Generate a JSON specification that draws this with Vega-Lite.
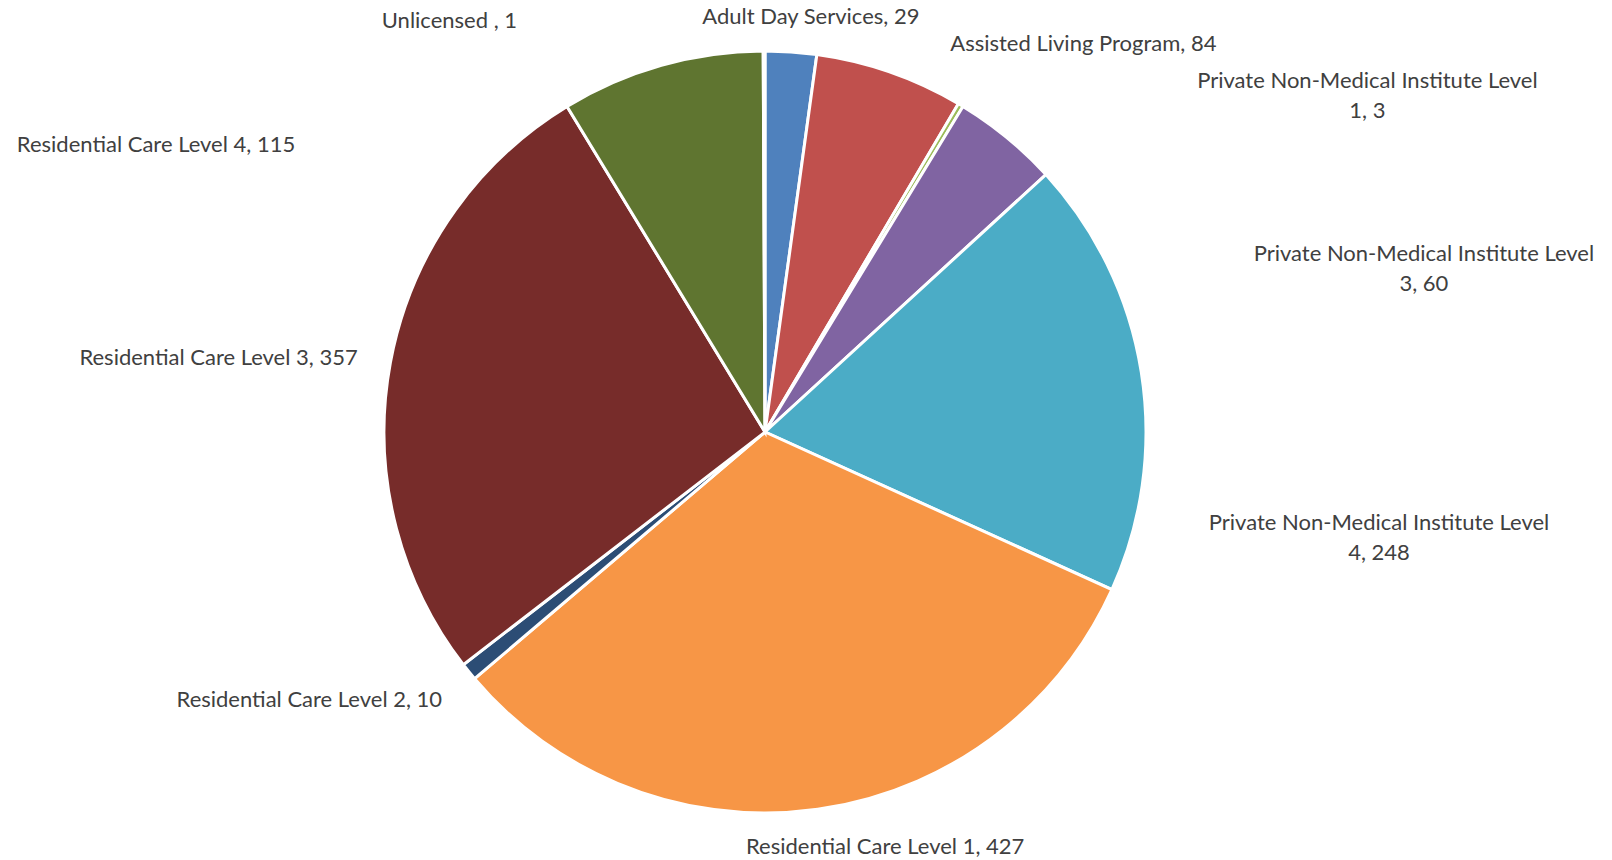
{
  "$schema": "https://vega.github.io/schema/vega-lite/v6.json",
  "width": 1530,
  "height": 856,
  "autosize": {"type": "none"},
  "padding": {"left": 0, "top": 4, "right": 82, "bottom": 0},
  "background": "white",
  "config": {"view": {"stroke": null}},
  "data": {"values": [
    {"name": "Adult Day Services", "value": 29, "label": "Adult Day Services, 29"},
    {"name": "Assisted Living Program", "value": 84, "label": "Assisted Living Program, 84"},
    {"name": "Private Non-Medical Institute Level 1", "value": 3, "label": "Private Non-Medical Institute Level\n1, 3"},
    {"name": "Private Non-Medical Institute Level 3", "value": 60, "label": "Private Non-Medical Institute Level\n3, 60"},
    {"name": "Private Non-Medical Institute Level 4", "value": 248, "label": "Private Non-Medical Institute Level\n4, 248"},
    {"name": "Residential Care Level 1", "value": 427, "label": "Residential Care Level 1, 427"},
    {"name": "Residential Care Level 2", "value": 10, "label": "Residential Care Level 2, 10"},
    {"name": "Residential Care Level 3", "value": 357, "label": "Residential Care Level 3, 357"},
    {"name": "Residential Care Level 4", "value": 115, "label": "Residential Care Level 4, 115"},
    {"name": "Unlicensed", "value": 1, "label": "Unlicensed , 1"}
  ]},
  "layer": [
    {
      "mark": {"type": "arc", "radius": 381, "stroke": "white", "strokeWidth": 3},
      "encoding": {
        "theta": {"field": "value", "type": "quantitative", "stack": true},
        "color": {"field": "name", "type": "nominal", "legend": null,
          "scale": {
            "domain": ["Adult Day Services", "Assisted Living Program", "Private Non-Medical Institute Level 1", "Private Non-Medical Institute Level 3", "Private Non-Medical Institute Level 4", "Residential Care Level 1", "Residential Care Level 2", "Residential Care Level 3", "Residential Care Level 4", "Unlicensed"],
            "range": ["#4F81BD", "#C0504D", "#9BBB59", "#8064A2", "#4BACC6", "#F79646", "#2C4D75", "#772C2A", "#5F7530", "#4D3B62"]
          }}
      }
    },
    {
      "mark": {"type": "text", "radius": 408, "align": "center", "baseline": "alphabetic", "dx": 18, "dy": -1, "lineBreak": "\n", "lineHeight": 30, "font": "Lato", "fontSize": 22, "fill": "#404040"},
      "encoding": {
        "theta": {"field": "value", "type": "quantitative", "stack": true},
        "detail": {"field": "name", "type": "nominal"},
        "text": {"condition": {"test": "datum.name === 'Adult Day Services'", "field": "label", "type": "nominal"}, "value": ""}
      }
    },
    {
      "mark": {"type": "text", "radius": 404, "align": "right", "baseline": "alphabetic", "dx": -247, "dy": 0, "lineBreak": "\n", "lineHeight": 30, "font": "Lato", "fontSize": 22, "fill": "#404040"},
      "encoding": {
        "theta": {"field": "value", "type": "quantitative", "stack": true},
        "detail": {"field": "name", "type": "nominal"},
        "text": {"condition": {"test": "datum.name === 'Unlicensed'", "field": "label", "type": "nominal"}, "value": ""}
      }
    },
    {
      "mark": {"type": "text", "radius": 400, "align": "left", "baseline": "alphabetic", "dx": 54, "dy": -3, "lineBreak": "\n", "lineHeight": 30, "font": "Lato", "fontSize": 22, "fill": "#404040"},
      "encoding": {
        "theta": {"field": "value", "type": "quantitative", "stack": true},
        "detail": {"field": "name", "type": "nominal"},
        "text": {"condition": {"test": "datum.name === 'Assisted Living Program'", "field": "label", "type": "nominal"}, "value": ""}
      }
    },
    {
      "mark": {"type": "text", "radius": 400, "align": "center", "baseline": "alphabetic", "dx": 397, "dy": -1, "lineBreak": "\n", "lineHeight": 30, "font": "Lato", "fontSize": 22, "fill": "#404040"},
      "encoding": {
        "theta": {"field": "value", "type": "quantitative", "stack": true},
        "detail": {"field": "name", "type": "nominal"},
        "text": {"condition": {"test": "datum.name === 'Private Non-Medical Institute Level 1'", "field": "label", "type": "nominal"}, "value": ""}
      }
    },
    {
      "mark": {"type": "text", "radius": 400, "align": "center", "baseline": "alphabetic", "dx": 405, "dy": 138, "lineBreak": "\n", "lineHeight": 30, "font": "Lato", "fontSize": 22, "fill": "#404040"},
      "encoding": {
        "theta": {"field": "value", "type": "quantitative", "stack": true},
        "detail": {"field": "name", "type": "nominal"},
        "text": {"condition": {"test": "datum.name === 'Private Non-Medical Institute Level 3'", "field": "label", "type": "nominal"}, "value": ""}
      }
    },
    {
      "mark": {"type": "text", "radius": 400, "align": "center", "baseline": "alphabetic", "dx": 219, "dy": 161, "lineBreak": "\n", "lineHeight": 30, "font": "Lato", "fontSize": 22, "fill": "#404040"},
      "encoding": {
        "theta": {"field": "value", "type": "quantitative", "stack": true},
        "detail": {"field": "name", "type": "nominal"},
        "text": {"condition": {"test": "datum.name === 'Private Non-Medical Institute Level 4'", "field": "label", "type": "nominal"}, "value": ""}
      }
    },
    {
      "mark": {"type": "text", "radius": 420, "align": "center", "baseline": "alphabetic", "dx": 62, "dy": 6, "lineBreak": "\n", "lineHeight": 30, "font": "Lato", "fontSize": 22, "fill": "#404040"},
      "encoding": {
        "theta": {"field": "value", "type": "quantitative", "stack": true},
        "detail": {"field": "name", "type": "nominal"},
        "text": {"condition": {"test": "datum.name === 'Residential Care Level 1'", "field": "label", "type": "nominal"}, "value": ""}
      }
    },
    {
      "mark": {"type": "text", "radius": 400, "align": "right", "baseline": "alphabetic", "dx": -12, "dy": 23, "lineBreak": "\n", "lineHeight": 30, "font": "Lato", "fontSize": 22, "fill": "#404040"},
      "encoding": {
        "theta": {"field": "value", "type": "quantitative", "stack": true},
        "detail": {"field": "name", "type": "nominal"},
        "text": {"condition": {"test": "datum.name === 'Residential Care Level 2'", "field": "label", "type": "nominal"}, "value": ""}
      }
    },
    {
      "mark": {"type": "text", "radius": 400, "align": "right", "baseline": "alphabetic", "dx": -14, "dy": 6, "lineBreak": "\n", "lineHeight": 30, "font": "Lato", "fontSize": 22, "fill": "#404040"},
      "encoding": {
        "theta": {"field": "value", "type": "quantitative", "stack": true},
        "detail": {"field": "name", "type": "nominal"},
        "text": {"condition": {"test": "datum.name === 'Residential Care Level 3'", "field": "label", "type": "nominal"}, "value": ""}
      }
    },
    {
      "mark": {"type": "text", "radius": 400, "align": "right", "baseline": "alphabetic", "dx": -361, "dy": 105, "lineBreak": "\n", "lineHeight": 30, "font": "Lato", "fontSize": 22, "fill": "#404040"},
      "encoding": {
        "theta": {"field": "value", "type": "quantitative", "stack": true},
        "detail": {"field": "name", "type": "nominal"},
        "text": {"condition": {"test": "datum.name === 'Residential Care Level 4'", "field": "label", "type": "nominal"}, "value": ""}
      }
    }
  ]
}
